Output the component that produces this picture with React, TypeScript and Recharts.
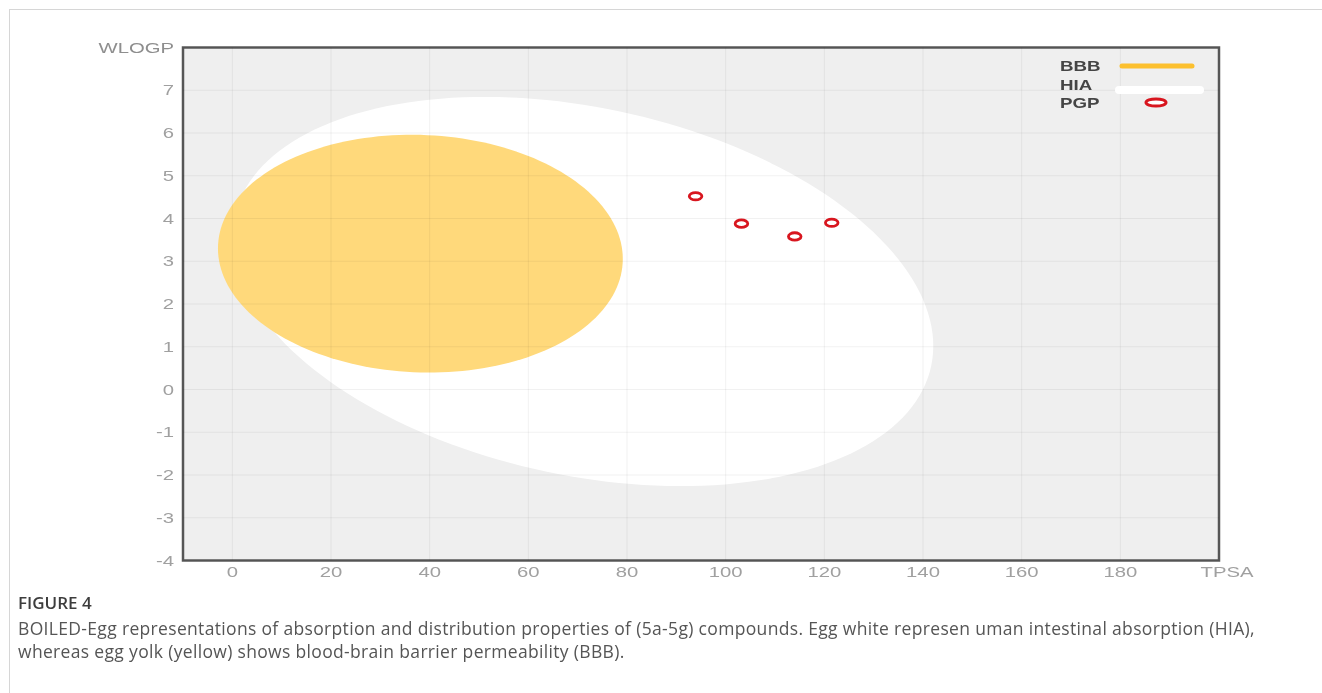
import React from 'react';
import { ScatterChart, Scatter, XAxis, YAxis, CartesianGrid, ReferenceArea } from 'recharts';

// ---- data ----
const xTicks = [0, 20, 40, 60, 80, 100, 120, 140, 160, 180, 200];
const yTicks = [-4, -3, -2, -1, 0, 1, 2, 3, 4, 5, 6, 7, 8];
const xAxisName = 'TPSA';
const yAxisName = 'WLOGP';
const xDomain = [-10, 200];
const yDomain = [-4, 8];

// PGP compounds (TPSA, WLOGP)
const pgpTPSA = [93.9, 103.2, 114.0, 121.5];
const pgpWLOGP = [4.52, 3.88, 3.58, 3.9];

// BOILED-Egg ellipses: centre (TPSA, WLOGP), full axes (TPSA, WLOGP), rotation (deg)
const yolkCenter = [38.11714, 3.177337];
const yolkAxes = [82.06177, 5.557886];
const yolkAngle = -0.171887;
const whiteCenter = [71.051297, 2.292323];
const whiteAxes = [142.081785, 8.740015];
const whiteAngle = -1.031325;

const legendLabels = ['BBB', 'HIA', 'PGP'];
const captionTitle = 'FIGURE 4';
const captionLine1 =
  'BOILED-Egg representations of absorption and distribution properties of (5a-5g) compounds. Egg white represen uman intestinal absorption (HIA),';
const captionLine2 = 'whereas egg yolk (yellow) shows blood-brain barrier permeability (BBB).';

function ellipseOutline(center: number[], axes: number[], angleDeg: number, n = 180) {
  const th = (angleDeg * Math.PI) / 180;
  const a = axes[0] / 2;
  const b = axes[1] / 2;
  const pts: { x: number; y: number }[] = [];
  for (let i = 0; i <= n; i++) {
    const t = (2 * Math.PI * i) / n;
    const u = a * Math.cos(t);
    const v = b * Math.sin(t);
    pts.push({
      x: center[0] + u * Math.cos(th) - v * Math.sin(th),
      y: center[1] + u * Math.sin(th) + v * Math.cos(th),
    });
  }
  return pts;
}

const yolkData = ellipseOutline(yolkCenter, yolkAxes, yolkAngle);
const whiteData = ellipseOutline(whiteCenter, whiteAxes, whiteAngle);
const pgpData = pgpTPSA.map((x, i) => ({ x, y: pgpWLOGP[i] }));

const AXIS_FONT = '"Liberation Sans", Arial, sans-serif';
const STRETCH = 1.45;

const XTick = (props: any) => {
  const { x, y, payload } = props;
  const isName = payload.value === xDomain[1];
  const label = isName ? xAxisName : String(payload.value);
  return (
    <g transform={`translate(${x},${y})`}>
      <text
        transform={`scale(${STRETCH},1)`}
        x={isName ? 8 / STRETCH : 0}
        y={17}
        textAnchor="middle"
        fill="#a0a0a0"
        fontSize={14}
        fontFamily={AXIS_FONT}
      >
        {label}
      </text>
    </g>
  );
};

const YTick = (props: any) => {
  const { x, y, payload } = props;
  const isName = payload.value === yDomain[1];
  const label = isName ? yAxisName : String(payload.value);
  return (
    <g transform={`translate(${x},${y})`}>
      <text
        transform={`scale(${STRETCH},1)`}
        x={-9 / STRETCH}
        y={5}
        textAnchor="end"
        fill={isName ? '#8e8e8e' : '#a0a0a0'}
        fontSize={14}
        fontFamily={AXIS_FONT}
      >
        {label}
      </text>
    </g>
  );
};

const fillLine = (color: string) => (p: any) => {
  const pts = p.points || [];
  if (!pts.length) return <g />;
  const d = pts.map((pt: any, i: number) => `${i === 0 ? 'M' : 'L'}${pt.x},${pt.y}`).join(' ') + ' Z';
  return <path d={d} fill={color} stroke="none" />;
};

const NoShape = () => <g />;

const PgpShape = (props: any) => {
  const { cx, cy } = props;
  return <ellipse cx={cx} cy={cy} rx={6.3} ry={3.7} fill="#ffffff" stroke="#d8161f" strokeWidth={2.8} />;
};

const LegendBox = () => {
  const s = 1.25;
  const textProps = {
    fontSize: 15,
    fontWeight: 700,
    fill: '#454545',
    fontFamily: AXIS_FONT,
  };
  return (
    <svg
      width={170}
      height={64}
      style={{ position: 'absolute', left: 1042, top: 47, overflow: 'visible' }}
    >
      <text {...textProps} transform={`scale(${s},1)`} x={10 / s} y={16.5}>
        {legendLabels[0]}
      </text>
      <line x1={72} x2={142} y1={11} y2={11} stroke="#fcc02e" strokeWidth={5} strokeLinecap="round" />
      <text {...textProps} transform={`scale(${s},1)`} x={10 / s} y={35.5}>
        {legendLabels[1]}
      </text>
      <line x1={69} x2={150} y1={35} y2={35} stroke="#ffffff" strokeWidth={8} strokeLinecap="round" />
      <text {...textProps} transform={`scale(${s},1)`} x={10 / s} y={53.5}>
        {legendLabels[2]}
      </text>
      <ellipse cx={106} cy={47.5} rx={10} ry={3.6} fill="#ffffff" stroke="#d8161f" strokeWidth={3} />
    </svg>
  );
};

export default function App() {
  return (
    <div style={{ position: 'relative', width: 1306, height: 677 }}>
      <div
        style={{
          position: 'fixed',
          left: 9,
          top: 9,
          right: 0,
          bottom: 0,
          borderTop: '1px solid #d6d6d6',
          borderLeft: '1px solid #d6d6d6',
        }}
      />
      <div style={{ position: 'absolute', left: 0, top: 0 }}>
        <ScatterChart width={1306} height={600} margin={{ top: 39.5, right: 95, bottom: 17.5, left: 115 }}>
          <CartesianGrid fill="#efefef" stroke="none" />
          <XAxis
            type="number"
            dataKey="x"
            domain={xDomain}
            ticks={xTicks}
            allowDataOverflow
            axisLine={false}
            tickLine={false}
            tickSize={0}
            tickMargin={0}
            height={30}
            tick={<XTick />}
            interval={0}
          />
          <YAxis
            type="number"
            dataKey="y"
            domain={yDomain}
            ticks={yTicks}
            allowDataOverflow
            axisLine={false}
            tickLine={false}
            tickSize={0}
            tickMargin={0}
            width={60}
            tick={<YTick />}
            interval={0}
          />
          <Scatter
            name="HIA"
            data={whiteData}
            fill="#ffffff"
            shape={<NoShape />}
            line={fillLine('#ffffff')}
            lineType="joint"
            isAnimationActive={false}
          />
          <Scatter
            name="BBB"
            data={yolkData}
            fill="#ffd97b"
            shape={<NoShape />}
            line={fillLine('#ffd97b')}
            lineType="joint"
            isAnimationActive={false}
          />
          {/* @ts-ignore */}
          <CartesianGrid fill="none" stroke="#000000" strokeOpacity={0.055} zIndex={650} />
          {/* @ts-ignore */}
          <Scatter name="PGP" data={pgpData} fill="#d8161f" shape={<PgpShape />} isAnimationActive={false} zIndex={800} />
          <ReferenceArea
            x1={xDomain[0]}
            x2={xDomain[1]}
            y1={yDomain[0]}
            y2={yDomain[1]}
            fill="none"
            fillOpacity={0}
            stroke="#595959"
            strokeWidth={2.5}
            ifOverflow="visible"
          />
        </ScatterChart>
      </div>
      <LegendBox />
      <div
        style={{
          position: 'absolute',
          left: 10,
          top: 584,
          fontFamily: '"Open Sans", Lato, sans-serif',
          color: '#4a4a4a',
          whiteSpace: 'nowrap',
        }}
      >
        <div style={{ fontSize: 17, fontWeight: 600, lineHeight: '22px', color: '#3d3d3d' }}>{captionTitle}</div>
        <div style={{ fontSize: 17.5, lineHeight: '23px', marginTop: 3, color: '#555', letterSpacing: '0.33px' }}>
          {captionLine1}
          <br />
          {captionLine2}
        </div>
      </div>
    </div>
  );
}
